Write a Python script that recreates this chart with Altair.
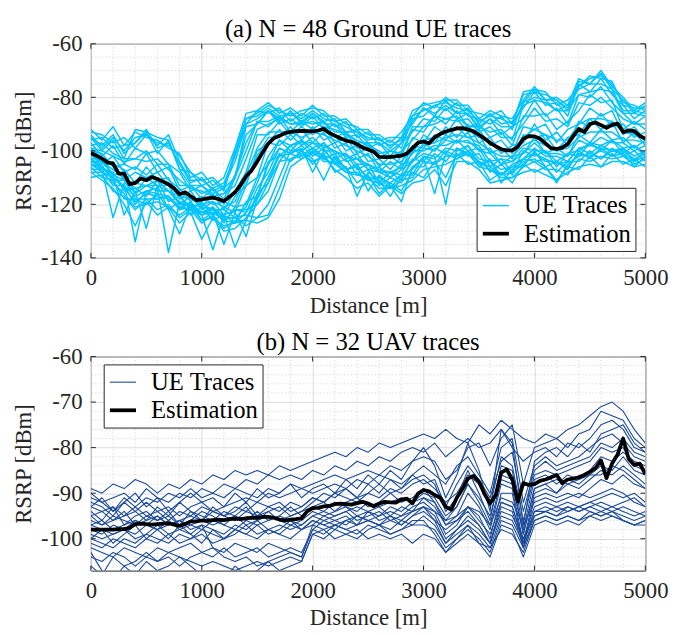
import altair as alt
import pandas as pd

# ---------------- data ----------------
distance_est = list(range(0, 5001, 50))
distance_trace = list(range(0, 5001, 100))

ground_estimation = [
    -100.8, -101.8, -102.9, -104.3, -104.8, -108.5, -108.5, -112.5, -112.0, -110.3,
    -111.0, -109.8, -110.5, -111.5, -112.5, -114.0, -116.2, -115.5, -117.0, -118.4,
    -118.2, -117.8, -117.5, -118.0, -118.8, -117.2, -115.5, -112.8, -109.5, -107.3,
    -104.0, -100.5, -97.3, -95.3, -94.4, -93.4, -92.9, -92.6, -92.5, -92.6,
    -92.7, -92.4, -91.8, -93.3, -94.3, -95.3, -96.2, -96.6, -97.5, -98.8,
    -99.5, -100.3, -102.3, -102.4, -102.3, -102.1, -101.8, -101.0, -99.0, -97.0,
    -96.5, -97.2, -95.0, -93.7, -92.8, -92.2, -91.6, -91.5, -92.0, -92.7,
    -94.0, -95.4, -97.0, -98.3, -99.4, -99.8, -99.8, -98.5, -95.5, -94.5,
    -94.6, -95.5, -97.2, -99.0, -99.3, -98.8, -97.5, -94.5, -91.8, -93.0,
    -90.0, -89.4, -90.4, -91.4, -90.3, -89.8, -93.0, -92.4, -92.6, -94.4,
    -95.5]

ground_traces = [
    [-92, -96, -91, -98, -93, -95, -96, -99, -101, -110, -108, -113, -110, -99, -86, -85, -82, -86, -84, -87,
     -83, -87, -87, -90, -91, -94, -94, -97, -93, -87, -82, -84, -80, -83, -83, -88, -85, -87, -88, -81,
     -76, -81, -80, -83, -73, -75, -70, -76, -80, -85, -82],
    [-96, -95, -99, -98, -97, -93, -101, -96, -107, -108, -113, -111, -115, -101, -90, -85, -86, -84, -89, -86,
     -88, -86, -91, -89, -95, -93, -98, -96, -99, -88, -87, -83, -85, -82, -87, -88, -90, -87, -92, -82,
     -80, -81, -85, -83, -77, -75, -75, -77, -85, -85, -86],
    [-97, -102, -98, -105, -99, -101, -100, -105, -108, -115, -113, -116, -114, -110, -91, -90, -85, -90, -88, -91,
     -87, -92, -90, -95, -94, -99, -97, -102, -97, -93, -88, -89, -84, -88, -86, -92, -88, -94, -91, -88,
     -81, -87, -84, -90, -79, -80, -76, -82, -86, -90, -87],
    [-100, -101, -106, -105, -107, -101, -108, -106, -115, -113, -118, -114, -120, -110, -100, -89, -91, -87, -93, -89,
     -92, -89, -95, -93, -99, -97, -103, -100, -102, -92, -93, -87, -90, -85, -91, -90, -95, -93, -98, -87,
     -87, -86, -92, -89, -85, -79, -82, -81, -92, -89, -92],
    [-102, -103, -105, -107, -112, -106, -111, -110, -118, -115, -121, -116, -122, -115, -108, -94, -94, -89, -94, -91,
     -94, -91, -97, -95, -101, -99, -106, -102, -105, -95, -97, -91, -94, -88, -93, -92, -98, -96, -101, -91,
     -92, -90, -97, -92, -90, -84, -87, -85, -94, -91, -96],
    [-104, -104, -109, -108, -116, -110, -113, -113, -120, -117, -122, -119, -124, -117, -113, -100, -97, -92, -96, -92,
     -97, -93, -99, -97, -103, -101, -108, -104, -107, -98, -99, -94, -96, -91, -95, -94, -101, -99, -103, -94,
     -95, -94, -100, -95, -94, -88, -92, -89, -97, -93, -98],
    [-103, -107, -108, -115, -114, -117, -111, -119, -117, -122, -119, -124, -121, -123, -113, -110, -97, -98, -94, -98,
     -95, -99, -97, -103, -101, -107, -106, -110, -105, -104, -97, -100, -94, -97, -93, -100, -99, -105, -102, -101,
     -95, -101, -99, -102, -94, -97, -92, -96, -95, -99, -96],
    [-107, -107, -113, -113, -120, -115, -118, -117, -122, -119, -124, -121, -127, -121, -120, -110, -105, -96, -100, -96,
     -101, -97, -103, -101, -107, -105, -112, -108, -111, -103, -104, -99, -101, -96, -100, -99, -106, -103, -108, -100,
     -102, -100, -106, -101, -102, -97, -100, -96, -101, -98, -102],
    [-106, -110, -111, -118, -118, -120, -116, -122, -119, -124, -121, -126, -124, -127, -119, -117, -104, -102, -98, -102,
     -99, -103, -101, -107, -105, -111, -110, -114, -109, -109, -102, -105, -100, -102, -98, -105, -104, -109, -106, -106,
     -100, -106, -104, -107, -100, -103, -99, -102, -99, -104, -100],
    [-110, -109, -115, -117, -122, -118, -122, -120, -125, -122, -127, -124, -129, -126, -126, -116, -112, -101, -104, -100,
     -105, -101, -108, -106, -112, -109, -116, -112, -115, -108, -110, -104, -110, -101, -105, -104, -111, -108, -112, -105,
     -108, -106, -111, -106, -107, -102, -106, -101, -105, -103, -106],
    [-105, -107, -125, -112, -134, -115, -114, -138, -119, -121, -124, -137, -124, -136, -126, -117, -105, -99, -101, -99,
     -108, -100, -104, -106, -117, -108, -111, -117, -110, -104, -101, -102, -120, -99, -101, -104, -107, -109, -105, -103,
     -101, -103, -105, -104, -99, -98, -99, -100, -100, -103, -101],
    [-99, -103, -105, -111, -112, -113, -111, -115, -117, -121, -120, -122, -122, -125, -124, -125, -120, -110, -100, -100,
     -97, -100, -100, -104, -103, -107, -108, -110, -107, -104, -99, -100, -96, -97, -96, -100, -101, -105, -104, -101,
     -97, -101, -101, -102, -96, -98, -95, -97, -97, -100, -98],
    [-103, -103, -109, -111, -116, -113, -115, -115, -120, -120, -123, -121, -125, -125, -128, -125, -124, -114, -103, -102,
     -99, -102, -103, -107, -106, -110, -110, -112, -109, -107, -102, -103, -99, -100, -98, -103, -104, -107, -106, -103,
     -99, -102, -102, -104, -99, -101, -98, -100, -99, -102, -100],
    [-98, -97, -101, -103, -103, -100, -105, -105, -113, -113, -116, -114, -118, -109, -97, -89, -89, -87, -90, -89,
     -90, -89, -93, -93, -97, -97, -101, -100, -101, -91, -91, -87, -88, -87, -91, -91, -93, -92, -96, -83,
     -81, -82, -85, -85, -79, -78, -77, -78, -86, -86, -87],
    [-95, -100, -96, -103, -92, -93, -95, -96, -107, -113, -113, -117, -116, -110, -94, -90, -85, -88, -86, -89,
     -86, -90, -90, -93, -93, -97, -97, -100, -97, -89, -84, -86, -83, -86, -86, -91, -88, -91, -91, -82,
     -77, -81, -81, -85, -74, -75, -71, -77, -81, -86, -83],
    [-105, -106, -111, -111, -118, -118, -118, -117, -122, -121, -123, -123, -125, -125, -121, -112, -102, -96, -98, -96,
     -99, -97, -101, -101, -105, -105, -108, -108, -109, -100, -100, -98, -98, -96, -97, -98, -104, -103, -104, -99,
     -100, -100, -104, -101, -100, -97, -98, -96, -99, -98, -101],
    [-94, -99, -95, -100, -95, -94, -98, -94, -104, -111, -111, -114, -112, -102, -88, -87, -84, -87, -86, -88,
     -85, -88, -89, -91, -93, -95, -96, -98, -96, -87, -85, -83, -82, -84, -85, -89, -87, -88, -90, -79,
     -78, -79, -81, -84, -76, -72, -73, -74, -83, -84, -84],
    [-108, -111, -114, -120, -128, -119, -124, -121, -127, -123, -133, -125, -130, -129, -125, -120, -112, -104, -103, -101,
     -104, -102, -107, -110, -114, -112, -117, -113, -116, -112, -111, -107, -113, -104, -104, -107, -112, -111, -110, -108,
     -107, -109, -111, -108, -106, -105, -106, -104, -104, -106, -105],
    [-101, -106, -104, -111, -108, -110, -108, -113, -117, -118, -120, -119, -121, -119, -109, -99, -93, -93, -93, -95,
     -93, -94, -96, -98, -100, -102, -105, -105, -104, -99, -96, -95, -93, -92, -92, -95, -97, -100, -100, -95,
     -92, -94, -96, -96, -90, -88, -88, -89, -93, -94, -95],
    [-101, -104, -107, -110, -114, -113, -113, -115, -119, -120, -121, -122, -124, -122, -122, -120, -115, -104, -98, -97,
     -97, -98, -100, -102, -103, -105, -107, -108, -106, -101, -98, -97, -95, -94, -95, -97, -100, -102, -102, -98,
     -96, -98, -100, -99, -95, -93, -93, -93, -96, -96, -97],
    [-95, -98, -94, -101, -97, -92, -99, -97, -105, -112, -110, -115, -113, -104, -90, -88, -85, -89, -85, -90,
     -86, -89, -88, -93, -92, -96, -95, -99, -95, -90, -84, -87, -81, -86, -84, -90, -86, -90, -89, -84,
     -78, -83, -82, -87, -75, -78, -73, -79, -83, -88, -85],
    [-105, -108, -110, -114, -119, -116, -117, -118, -121, -120, -123, -122, -126, -122, -123, -114, -108, -99, -101, -98,
     -102, -99, -105, -103, -109, -107, -113, -110, -112, -106, -106, -101, -104, -99, -102, -101, -108, -105, -109, -103,
     -104, -103, -108, -104, -104, -100, -103, -99, -102, -100, -104],
    [-100, -105, -102, -108, -106, -109, -105, -111, -114, -119, -117, -120, -119, -121, -111, -102, -95, -95, -91, -96,
     -91, -96, -94, -100, -98, -104, -103, -107, -102, -101, -94, -97, -91, -95, -90, -97, -95, -101, -98, -97,
     -90, -96, -93, -98, -89, -91, -86, -91, -90, -95, -93],
    [-104, -106, -110, -113, -117, -115, -116, -117, -121, -122, -124, -123, -126, -127, -126, -127, -125, -118, -106, -103,
     -101, -103, -105, -108, -108, -111, -112, -114, -111, -110, -104, -105, -102, -102, -100, -104, -106, -109, -108, -105,
     -101, -104, -104, -106, -101, -102, -100, -102, -101, -104, -102],
    [-103, -106, -109, -124, -115, -129, -113, -122, -131, -120, -126, -123, -135, -123, -132, -118, -110, -101, -104, -100,
     -103, -111, -102, -107, -106, -115, -109, -113, -119, -106, -103, -116, -101, -103, -100, -106, -103, -112, -107, -104,
     -103, -106, -112, -105, -102, -101, -103, -100, -101, -106, -102],
    [-93, -94, -97, -95, -99, -94, -97, -98, -102, -108, -111, -110, -114, -100, -88, -86, -83, -85, -87, -85,
     -84, -85, -89, -88, -92, -92, -96, -95, -95, -85, -83, -82, -81, -81, -85, -86, -87, -85, -90, -78,
     -77, -78, -83, -81, -76, -73, -72, -75, -82, -83, -85],
    [-99, -100, -102, -104, -103, -104, -103, -107, -111, -114, -115, -117, -116, -113, -103, -92, -90, -88, -90, -90,
     -89, -91, -92, -94, -96, -98, -100, -103, -100, -96, -91, -90, -88, -89, -88, -93, -91, -95, -95, -90,
     -84, -89, -88, -91, -82, -83, -80, -84, -88, -90, -90],
    [-108, -108, -112, -116, -121, -120, -119, -121, -124, -121, -126, -125, -128, -127, -123, -118, -110, -102, -101, -103,
     -100, -104, -104, -108, -109, -110, -114, -114, -113, -111, -107, -106, -105, -103, -101, -106, -107, -110, -110, -106,
     -104, -107, -107, -109, -103, -104, -102, -103, -102, -105, -103],
]

uav_estimation = [
    -98.0, -98.0, -98.0, -98.0, -98.0, -97.9, -97.9, -97.6, -96.8, -96.7,
    -96.8, -96.9, -96.8, -96.7, -96.6, -96.9, -97.2, -96.8, -96.2, -96.2,
    -96.0, -96.1, -95.9, -95.8, -95.9, -95.7, -95.6, -95.7, -95.5, -95.4,
    -95.4, -95.2, -95.2, -95.4, -95.8, -96.0, -95.8, -95.7, -95.5, -94.0,
    -93.3, -93.2, -92.9, -92.8, -92.4, -92.3, -92.4, -92.5, -92.2, -91.9,
    -92.3, -92.9, -92.3, -91.9, -92.0, -92.1, -91.4, -91.2, -92.2, -90.1,
    -89.3, -89.6, -90.4, -91.0, -93.0, -93.6, -91.0, -89.1, -86.8, -86.2,
    -87.5, -90.2, -92.2, -90.5, -85.5, -84.8, -87.0, -91.8, -87.8, -88.2,
    -88.0, -87.3, -87.0, -86.5, -86.0, -87.8, -87.0, -86.8, -86.5, -86.0,
    -85.3, -84.5, -82.8, -86.7, -83.5, -81.5, -78.0, -82.5, -83.8, -83.5,
    -85.8]

uav_traces = [
    [-89, -90, -88, -89, -87, -88, -90, -88, -89, -87, -88, -86, -87, -85, -86, -85, -86, -84, -85, -84,
     -83, -82, -81, -82, -80, -81, -79, -80, -79, -78, -77, -78, -76, -78, -79, -75, -77, -74, -76, -78,
     -79, -77, -78, -76, -75, -73, -71, -70, -72, -76, -79],
    [-91, -92, -91, -90, -92, -89, -91, -92, -90, -91, -89, -90, -88, -89, -87, -88, -86, -87, -86, -87,
     -85, -86, -84, -85, -83, -84, -82, -83, -81, -80, -81, -79, -82, -80, -78, -80, -79, -76, -80, -83,
     -81, -80, -82, -79, -80, -78, -75, -74, -76, -80, -81],
    [-93, -94, -93, -95, -94, -92, -94, -93, -95, -93, -92, -94, -93, -92, -91, -92, -90, -91, -90, -89,
     -90, -89, -88, -89, -87, -88, -86, -87, -88, -86, -84, -86, -88, -84, -82, -86, -90, -80, -78, -92,
     -84, -82, -84, -83, -82, -80, -78, -77, -79, -82, -83],
    [-95, -94, -96, -95, -93, -95, -94, -96, -94, -95, -93, -94, -95, -93, -94, -92, -93, -94, -92, -93,
     -91, -92, -90, -91, -92, -90, -91, -89, -90, -88, -87, -89, -92, -90, -86, -88, -93, -82, -84, -96,
     -86, -85, -86, -85, -84, -83, -80, -81, -80, -84, -85],
    [-97, -96, -98, -97, -96, -97, -95, -97, -96, -95, -96, -94, -95, -96, -94, -95, -94, -96, -95, -94,
     -93, -94, -92, -93, -94, -92, -93, -92, -91, -92, -90, -91, -95, -93, -88, -91, -95, -86, -87, -99,
     -89, -88, -87, -88, -87, -86, -84, -85, -82, -85, -86],
    [-98, -99, -97, -98, -99, -97, -98, -96, -98, -97, -96, -97, -96, -95, -97, -96, -95, -96, -97, -96,
     -94, -95, -94, -93, -95, -94, -93, -95, -93, -94, -91, -93, -97, -95, -90, -93, -98, -88, -89, -101,
     -90, -89, -90, -88, -89, -87, -85, -86, -84, -86, -88],
    [-99, -100, -99, -98, -100, -99, -97, -99, -98, -99, -97, -98, -99, -97, -98, -96, -98, -97, -98, -97,
     -95, -96, -95, -94, -96, -95, -94, -96, -95, -93, -92, -94, -99, -97, -93, -95, -100, -90, -90, -102,
     -91, -90, -91, -90, -91, -89, -87, -88, -86, -88, -89],
    [-100, -101, -102, -100, -101, -99, -100, -101, -99, -100, -98, -99, -100, -99, -97, -99, -98, -99, -97, -98,
     -96, -97, -96, -97, -95, -96, -97, -95, -96, -94, -93, -95, -100, -98, -95, -97, -101, -92, -93, -100,
     -93, -92, -93, -92, -93, -92, -91, -90, -91, -90, -92],
    [-101, -102, -100, -101, -102, -100, -101, -99, -101, -100, -99, -101, -100, -98, -99, -100, -98, -99, -100, -98,
     -96, -97, -98, -96, -97, -96, -97, -98, -96, -97, -95, -97, -101, -99, -97, -99, -102, -95, -96, -101,
     -94, -94, -95, -93, -94, -93, -94, -93, -94, -95, -94],
    [-102, -103, -104, -102, -103, -104, -102, -103, -102, -101, -103, -102, -103, -101, -102, -103, -101, -102, -103, -104,
     -97, -98, -97, -98, -99, -97, -98, -99, -98, -97, -97, -98, -102, -100, -98, -100, -103, -96, -97, -102,
     -95, -94, -95, -94, -93, -94, -95, -94, -95, -96, -95],
    [-104, -105, -103, -104, -106, -104, -105, -103, -104, -105, -106, -105, -106, -107, -106, -105, -106, -105, -104, -105,
     -99, -98, -100, -99, -98, -100, -99, -100, -99, -101, -99, -100, -103, -101, -99, -101, -102, -98, -99, -103,
     -96, -95, -96, -95, -96, -95, -94, -95, -96, -97, -96],
    [-96, -97, -95, -96, -97, -96, -95, -97, -96, -98, -97, -102, -104, -105, -104, -106, -105, -104, -103, -104,
     -98, -96, -97, -96, -95, -96, -95, -94, -95, -94, -93, -94, -96, -95, -93, -94, -97, -91, -92, -97,
     -92, -91, -92, -91, -90, -91, -90, -89, -90, -92, -93],
    [-90, -92, -94, -91, -93, -91, -92, -90, -91, -89, -91, -90, -91, -89, -90, -91, -89, -90, -88, -89,
     -88, -87, -86, -87, -86, -85, -86, -84, -85, -83, -82, -83, -87, -85, -80, -79, -84, -78, -75, -88,
     -80, -79, -78, -80, -77, -76, -72, -73, -74, -78, -80],
    [-97, -98, -99, -98, -96, -97, -98, -97, -96, -97, -98, -96, -97, -98, -96, -97, -96, -95, -96, -97,
     -95, -94, -95, -94, -93, -94, -95, -93, -94, -92, -91, -92, -97, -96, -93, -96, -99, -92, -93, -101,
     -94, -93, -94, -93, -94, -93, -92, -93, -92, -91, -93],
    [-106, -108, -104, -106, -105, -103, -105, -104, -106, -104, -103, -104, -102, -104, -103, -102, -104, -103, -102, -103,
     -98, -99, -97, -98, -97, -96, -97, -96, -97, -95, -94, -96, -101, -98, -96, -98, -101, -94, -95, -100,
     -95, -94, -93, -94, -93, -92, -93, -94, -93, -94, -95],
    [-92, -93, -95, -92, -94, -96, -93, -95, -92, -94, -96, -93, -95, -94, -92, -95, -93, -92, -94, -93,
     -91, -92, -90, -89, -91, -88, -90, -87, -89, -86, -88, -87, -93, -88, -84, -87, -91, -83, -81, -94,
     -85, -83, -85, -84, -83, -82, -79, -80, -78, -81, -82],
    [-100, -98, -101, -99, -97, -100, -98, -100, -97, -99, -101, -98, -100, -98, -99, -97, -99, -98, -96, -98,
     -97, -95, -96, -95, -97, -94, -96, -95, -97, -95, -93, -96, -98, -96, -94, -97, -101, -93, -94, -102,
     -96, -95, -96, -95, -96, -94, -95, -94, -96, -97, -96],
    [-94, -96, -93, -97, -95, -94, -96, -95, -97, -94, -95, -96, -94, -95, -93, -96, -94, -93, -95, -94,
     -92, -90, -91, -89, -91, -90, -88, -90, -89, -87, -86, -88, -94, -91, -85, -90, -96, -84, -85, -98,
     -87, -86, -88, -86, -87, -85, -82, -83, -81, -83, -84],
    [-93, -91, -94, -92, -90, -93, -91, -94, -92, -90, -92, -91, -93, -90, -92, -89, -91, -90, -88, -91,
     -89, -88, -90, -87, -89, -86, -88, -85, -87, -83, -80, -84, -91, -86, -79, -85, -94, -76, -79, -97,
     -83, -81, -80, -82, -79, -81, -77, -76, -75, -79, -81],
    [-103, -107, -109, -106, -108, -105, -107, -106, -104, -106, -108, -107, -109, -106, -108, -107, -105, -107, -106, -105,
     -99, -100, -98, -99, -100, -98, -97, -99, -98, -96, -96, -99, -103, -100, -97, -101, -104, -97, -98, -104,
     -97, -96, -97, -96, -97, -95, -96, -95, -96, -97, -97],
    [-95, -97, -96, -94, -97, -95, -96, -94, -97, -96, -94, -95, -97, -95, -96, -94, -96, -95, -93, -95,
     -93, -92, -94, -92, -91, -93, -92, -90, -92, -91, -89, -92, -96, -93, -88, -92, -97, -87, -88, -99,
     -89, -88, -90, -87, -88, -86, -86, -84, -85, -87, -89],
]

x_major = [0, 1000, 2000, 3000, 4000, 5000]
x_minor = [200, 400, 600, 800, 1200, 1400, 1600, 1800, 2200, 2400, 2600, 2800,
           3200, 3400, 3600, 3800, 4200, 4400, 4600, 4800]
ground_y_major = [-140, -120, -100, -80, -60]
ground_y_minor = [-135, -130, -125, -115, -110, -105, -95, -90, -85, -75, -70, -65]
uav_y_major = [-100, -90, -80, -70, -60]
uav_y_minor = [-106, -104, -102, -98, -96, -94, -92, -88, -86, -84, -82,
               -78, -76, -74, -72, -68, -66, -64, -62]

series_names = ["UE Traces", "Estimation"]

FONT = "Liberation Serif"
W, H = 562, 217
AXIS_COLOR = "#262626"


def panel(traces, estimation, ydom, y_major, y_minor, trace_color, trace_width,
          title, lx, ly):
    rows = []
    for k, tr in enumerate(traces):
        for d, v in zip(distance_trace, tr):
            rows.append({"trace": k, "distance": d, "rsrp": v, "series": "UE Traces"})
    tdf = pd.DataFrame(rows)
    edf = pd.DataFrame({"distance": distance_est, "rsrp": estimation,
                        "series": ["Estimation"] * len(distance_est)})

    xs = alt.Scale(domain=[0, 5000], nice=False, zero=False)
    ys = alt.Scale(domain=ydom, nice=False, zero=False)
    xax = alt.Axis(values=x_major, title="Distance [m]", grid=True,
                   gridColor="#dcdcdc", labelFlush=False, format="d")
    yax = alt.Axis(values=y_major, title="RSRP [dBm]", grid=True,
                   gridColor="#dcdcdc", labelFlush=False,
                   labelExpr="toString(datum.value)")
    X = lambda: alt.X("distance:Q", scale=xs, axis=xax)
    Y = lambda: alt.Y("rsrp:Q", scale=ys, axis=yax)

    cscale = alt.Scale(domain=series_names, range=[trace_color, "#000000"])
    wscale = alt.Scale(domain=series_names, range=[trace_width, 3.8])
    leg = alt.Legend(title=None, orient="none", legendX=lx, legendY=ly,
                     symbolType="stroke", symbolSize=700, labelFontSize=25,
                     labelFont=FONT, labelColor="#000000",
                     fillColor="white", strokeColor=AXIS_COLOR, padding=4,
                     rowPadding=0, labelOffset=13, cornerRadius=0)

    xgrid_minor = alt.Chart(pd.DataFrame({"distance": x_minor})).mark_rule(
        color="#c4c4c4", strokeWidth=0.8, strokeDash=[1, 2.5]).encode(x=X())
    ygrid_minor = alt.Chart(pd.DataFrame({"rsrp": y_minor})).mark_rule(
        color="#c4c4c4", strokeWidth=0.8, strokeDash=[1, 2.5]).encode(y=Y())

    trace_lines = alt.Chart(tdf).mark_line(clip=True, strokeJoin="round").encode(
        x=X(), y=Y(),
        detail="trace:N",
        color=alt.Color("series:N", scale=cscale, legend=leg),
        strokeWidth=alt.StrokeWidth("series:N", scale=wscale, legend=leg),
    )
    est_line = alt.Chart(edf).mark_line(clip=True, strokeJoin="round").encode(
        x=X(), y=Y(),
        color=alt.Color("series:N", scale=cscale, legend=leg),
        strokeWidth=alt.StrokeWidth("series:N", scale=wscale, legend=leg),
    )

    xt = pd.DataFrame({"distance": x_major})
    yt = pd.DataFrame({"rsrp": y_major})
    tick_top = alt.Chart(xt).mark_rule(color=AXIS_COLOR).encode(
        x=X(), y=alt.value(0), y2=alt.value(5))
    tick_bot = alt.Chart(xt).mark_rule(color=AXIS_COLOR).encode(
        x=X(), y=alt.value(H - 5), y2=alt.value(H))
    tick_left = alt.Chart(yt).mark_rule(color=AXIS_COLOR).encode(
        y=Y(), x=alt.value(0), x2=alt.value(5))
    tick_right = alt.Chart(yt).mark_rule(color=AXIS_COLOR).encode(
        y=Y(), x=alt.value(W - 5), x2=alt.value(W))

    return alt.layer(
        xgrid_minor, ygrid_minor, trace_lines, est_line,
        tick_top, tick_bot, tick_left, tick_right,
    ).properties(
        width=W, height=H,
        title=alt.TitleParams(text=title, fontSize=25, fontWeight="normal",
                              font=FONT, color="#000000", offset=-9, frame="group"),
    )


top = panel(ground_traces, ground_estimation, [-140, -60], ground_y_major,
            ground_y_minor, "#00c4ff", 1.5, "(a) N = 48 Ground UE traces", 391, 146)
bottom = panel(uav_traces, uav_estimation, [-107, -60], uav_y_major,
               uav_y_minor, "#1a4a99", 1.1, "(b) N = 32 UAV traces", 13, 8)

chart = alt.vconcat(top, bottom, spacing=100, bounds="flush").resolve_scale(
    color="independent", strokeWidth="independent", x="independent", y="independent"
).resolve_legend(
    color="independent", strokeWidth="independent"
).properties(
    padding={"left": 4, "top": 4, "right": 0, "bottom": 0}
).configure_view(
    stroke=AXIS_COLOR, strokeWidth=1
).configure_axis(
    labelFont=FONT, titleFont=FONT, labelFontSize=23, titleFontSize=23,
    titleFontWeight="normal", labelColor=AXIS_COLOR, titleColor=AXIS_COLOR,
    domain=False, ticks=False, labelPadding=9, titlePadding=5,
)

chart.save("out.html", embed_options={"renderer": "svg", "actions": False})
